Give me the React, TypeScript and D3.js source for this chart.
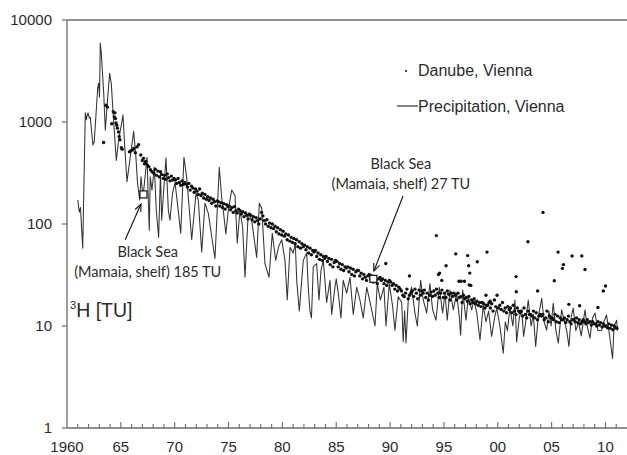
import React from 'react';
import * as d3 from 'd3';

// ---------- data ----------
const xTickYears = [1960, 1965, 1970, 1975, 1980, 1985, 1990, 1995, 2000, 2005, 2010];
const xTickLabels = ['1960', '65', '70', '75', '80', '85', '90', '95', '00', '05', '10'];
const yTickValues = [1, 10, 100, 1000, 10000];
const yTickLabels = ['1', '10', '100', '1000', '10000'];

// Precipitation, Vienna: [decimal year, TU]
const precipitation: [number, number][] = [
  [1961.0, 172], [1961.14, 131], [1961.25, 145], [1961.46, 58], [1961.7, 1230], [1961.8, 1050], [1961.86, 1150],
  [1961.95, 1230], [1962.07, 1090], [1962.16, 1110], [1962.41, 595], [1962.53, 640], [1962.85, 2150], [1962.94, 2400],
  [1963.02, 1750], [1963.09, 5950], [1963.18, 4800], [1963.41, 1900], [1963.56, 830], [1963.71, 1400], [1963.96, 3000],
  [1964.11, 2400], [1964.34, 980], [1964.58, 420], [1964.8, 670], [1965.2, 1170], [1965.35, 600], [1965.57, 260],
  [1966.19, 810], [1966.4, 450], [1966.55, 250], [1966.75, 172], [1966.87, 290], [1967.06, 185], [1967.43, 450],
  [1967.64, 87], [1967.73, 290], [1967.89, 215], [1968.11, 360], [1968.29, 137], [1968.51, 74], [1968.68, 320],
  [1968.79, 109], [1969.19, 445], [1969.41, 137], [1969.56, 109], [1969.8, 200], [1970.03, 255], [1970.19, 183],
  [1970.56, 81], [1970.86, 450], [1971.11, 290], [1971.36, 137], [1971.58, 70], [1971.98, 200], [1972.19, 172],
  [1972.51, 53], [1972.81, 160], [1973.12, 128], [1973.44, 75], [1973.74, 46], [1974.14, 360], [1974.36, 183],
  [1974.58, 117], [1974.75, 80], [1974.98, 137], [1975.29, 215], [1975.6, 190], [1975.81, 65], [1976.06, 137],
  [1976.31, 93], [1976.53, 30], [1976.83, 128], [1977.15, 109], [1977.61, 47], [1977.86, 160], [1978.08, 143],
  [1978.38, 41], [1978.76, 30], [1979.06, 81], [1979.38, 44], [1979.65, 60], [1979.94, 70], [1980.24, 44],
  [1980.45, 18], [1980.71, 59], [1981.01, 52], [1981.2, 65], [1981.33, 28], [1981.57, 14], [1981.94, 44],
  [1982.26, 52], [1982.4, 24], [1982.56, 14], [1982.7, 12], [1982.87, 38], [1983.18, 41], [1983.4, 18],
  [1983.58, 35], [1983.8, 44], [1984.11, 17], [1984.42, 28], [1984.58, 13], [1984.88, 24], [1985.0, 29],
  [1985.19, 21], [1985.44, 12], [1985.65, 28], [1985.97, 21], [1986.28, 30], [1986.58, 13], [1986.9, 24],
  [1987.2, 18], [1987.51, 12], [1987.83, 24], [1988.2, 16], [1988.6, 10], [1988.81, 26], [1989.1, 18],
  [1989.43, 24], [1989.62, 10], [1989.93, 26], [1990.24, 15.5], [1990.45, 9.1], [1990.76, 19.4], [1991.08, 17],
  [1991.22, 7.0], [1991.35, 14], [1991.48, 6.8], [1991.69, 18], [1992.0, 24], [1992.31, 13.4], [1992.53, 10],
  [1992.84, 28], [1993.08, 18], [1993.4, 13.4], [1993.7, 26], [1993.95, 14.4], [1994.26, 11.4], [1994.57, 24],
  [1994.88, 13.4], [1995.1, 21], [1995.31, 11.4], [1995.56, 22.5], [1995.87, 14.4], [1996.18, 21], [1996.43, 12.3],
  [1996.55, 8.1], [1996.74, 22.5], [1997.05, 11.4], [1997.26, 19.4], [1997.58, 14.4], [1997.79, 18], [1998.05, 13.4],
  [1998.35, 7.3], [1998.65, 16], [1998.9, 11], [1999.15, 14], [1999.43, 7.9], [1999.7, 12], [1999.9, 15],
  [2000.2, 10], [2000.51, 5.4], [2000.7, 11], [2000.9, 9], [2001.13, 15], [2001.4, 10], [2001.6, 18],
  [2001.75, 7], [2002.0, 12], [2002.22, 14.4], [2002.4, 7.9], [2002.6, 11], [2002.83, 18], [2003.1, 10],
  [2003.3, 13], [2003.52, 6.3], [2003.75, 12], [2004.08, 18.7], [2004.3, 11], [2004.54, 9.1], [2004.75, 14],
  [2004.95, 10], [2005.15, 16.7], [2005.4, 9], [2005.62, 6.8], [2005.93, 14.4], [2006.2, 11], [2006.4, 9],
  [2006.61, 6.3], [2006.8, 12], [2007.0, 15], [2007.25, 9], [2007.5, 11], [2007.75, 8], [2008.1, 14.4],
  [2008.3, 10], [2008.56, 7.6], [2008.8, 12], [2009.03, 13.4], [2009.3, 9], [2009.65, 9.1], [2009.85, 11],
  [2010.1, 12.8], [2010.35, 8.5], [2010.66, 4.8], [2010.8, 10], [2011.04, 11.4], [2011.12, 9],
];

// Danube, Vienna – early irregular samples: [decimal year, TU]
const danubeEarly: [number, number][] = [
  [1963.4, 630], [1963.62, 1460], [1963.75, 1400], [1964.15, 960], [1964.3, 1260], [1964.4, 1120], [1964.45, 1230],
  [1964.5, 1080], [1964.55, 980], [1964.62, 930], [1964.68, 870], [1964.78, 800], [1964.85, 720], [1964.92, 670],
  [1965.05, 560], [1965.13, 540], [1965.8, 510], [1965.9, 520], [1966.1, 530], [1966.2, 550], [1966.35, 500],
  [1966.5, 570], [1966.65, 600], [1966.85, 475], [1967.0, 420], [1967.1, 440], [1967.2, 390], [1967.3, 410],
  [1967.45, 380], [1967.6, 365], [1967.75, 340], [1967.9, 325],
];

// Danube, Vienna – eight samples per year from 1968
const danubeFirstYear = 1968;
const danubeByYear: number[][] = [
  [315, 345, 300, 330, 290, 325, 305, 280],
  [300, 275, 310, 285, 265, 295, 270, 280],
  [270, 250, 280, 255, 240, 265, 245, 255],
  [245, 230, 250, 215, 235, 225, 205, 220],
  [210, 195, 220, 190, 200, 180, 195, 175],
  [185, 170, 180, 160, 175, 165, 150, 168],
  [165, 150, 162, 145, 158, 140, 155, 148],
  [150, 138, 145, 130, 148, 135, 128, 140],
  [135, 125, 132, 118, 128, 122, 112, 125],
  [122, 110, 118, 105, 115, 108, 100, 112],
  [130, 120, 108, 100, 110, 95, 102, 92],
  [100, 90, 95, 84, 92, 80, 88, 78],
  [85, 76, 80, 70, 78, 68, 74, 66],
  [72, 64, 70, 60, 67, 58, 64, 60],
  [62, 56, 60, 52, 58, 50, 55, 53],
  [55, 48, 52, 45, 50, 44, 48, 46],
  [48, 43, 46, 40, 45, 38, 42, 44],
  [43, 38, 41, 36, 40, 35, 38, 37],
  [38, 34, 37, 32, 36, 31, 34, 35],
  [35, 31, 33, 29, 32, 30, 28, 31],
  [32, 29, 31, 27, 30, 28, 26, 29],
  [30, 28, 29, 26, 28, 25, 27, 28],
  [27, 25, 26, 23, 25, 22, 24, 23],
  [22, 20, 19.4, 21, 23, 18.5, 20, 21],
  [22, 19.5, 23, 21, 18.5, 22.5, 20, 22],
  [21, 22.5, 19, 21, 18, 20, 21.5, 19.5],
  [22, 20, 23, 21, 19, 21, 22.5, 19],
  [21, 19, 22, 20.5, 18, 21, 19.5, 21],
  [20, 18, 21, 19, 19.4, 17, 20, 18.5],
  [19, 17.5, 19.5, 16.5, 18, 17, 18.5, 16.5],
  [17.5, 16, 17, 15.5, 17, 16.5, 15, 16],
  [16, 17, 15, 16.5, 14, 18, 15.5, 20],
  [15, 16, 14.5, 17, 14, 15, 13.5, 15.5],
  [14.5, 15, 13.5, 16, 14, 13, 15, 14],
  [13.5, 14, 12.5, 15, 13, 12, 14, 13],
  [13, 12.5, 14, 12, 13.5, 11.5, 12.5, 13],
  [12.5, 13, 11.5, 12, 14, 11, 12.5, 12],
  [12, 11.5, 13, 11, 12.5, 10.8, 12, 11.5],
  [11.5, 12, 10.8, 11.5, 12.5, 11, 10.5, 11.5],
  [11.5, 11, 12, 10.8, 11.5, 10.5, 11, 11.5],
  [11, 10.5, 11.5, 10.8, 11, 10.2, 11, 10.5],
  [10.5, 10, 11, 10.2, 10.8, 9.8, 10.5, 10],
  [10, 9.6, 10.5, 9.5, 10.2, 9.2, 10, 9.6],
  [9.5],
];

// Danube, Vienna – high single samples: [decimal year, TU]
const danubeExtra: [number, number][] = [
  [1989.6, 41], [1991.8, 31], [1994.3, 77], [1994.5, 32], [1994.6, 33], [1994.8, 28], [1995.2, 39],
  [1996.1, 51], [1996.4, 27.5], [1996.6, 27.5], [1996.9, 27.5], [1997.2, 49], [1997.3, 39], [1997.4, 33],
  [1997.35, 25.3], [1997.5, 25], [1998.1, 42.7], [1999.0, 53], [1998.9, 20], [1999.3, 17.5], [2001.7, 30.5],
  [2001.72, 21.7], [2002.8, 67], [2003.7, 22], [2004.2, 130], [2005.25, 27.8], [2005.6, 53], [2006.1, 40],
  [2006.0, 36.7], [2006.9, 48.6], [2006.6, 16.3], [2007.8, 48.6], [2008.1, 35.8], [2007.6, 15.8], [2009.3, 15.2],
  [2009.8, 22], [2010.0, 24.7],
];

// Black Sea samples: [decimal year, TU]
const blackSea: [number, number][] = [[1967.1, 195], [1988.45, 29]];

// annotation texts and arrows (data coordinates)
const blackSeaLabels = [
  { lines: ['Black Sea', '(Mamaia, shelf) 185 TU'], at: [1967.5, 47] as [number, number] },
  { lines: ['Black Sea', '(Mamaia, shelf) 27 TU'], at: [1991.0, 345] as [number, number] },
];
const arrows: { from: [number, number]; to: [number, number] }[] = [
  { from: [1965.4, 70], to: [1966.87, 157] },
  { from: [1991.2, 188], to: [1988.5, 34.6] },
];

const legendItems = ['Danube, Vienna', 'Precipitation, Vienna'];

// ---------- chart ----------
const W = 627;
const H = 455;

export default function App() {
  const x = d3.scaleLinear().domain([1960, 2012]).range([67, 627]);
  const y = d3.scaleLog().domain([1, 10000]).range([428, 20]);

  const line = d3
    .line<[number, number]>()
    .x((d) => x(d[0]))
    .y((d) => y(d[1]));

  const danubePoints: [number, number][] = [...danubeEarly];
  danubeByYear.forEach((row, i) => {
    row.forEach((v, j) => danubePoints.push([danubeFirstYear + i + (j + 0.5) / 8, v]));
  });
  danubePoints.push(...danubeExtra);

  const minorYears = d3.range(1961, 2012);
  const axisColor = '#6b6b6b';
  const ink = '#2b2b2b';
  const sans = '"Liberation Sans", Arial, sans-serif';
  const calib = 'Lato, "Open Sans", sans-serif';

  const arrowHead = (fx: number, fy: number, tx: number, ty: number) => {
    const ang = Math.atan2(ty - fy, tx - fx);
    const len = 8;
    const spread = 0.4;
    const a1 = ang + Math.PI - spread;
    const a2 = ang + Math.PI + spread;
    return `M${tx + len * Math.cos(a1)},${ty + len * Math.sin(a1)}L${tx},${ty}L${tx + len * Math.cos(a2)},${ty + len * Math.sin(a2)}`;
  };

  return (
    <svg width={W} height={H} style={{ position: 'absolute', left: 0, top: 0, background: '#fff' }}>
      <rect x={0} y={0} width={W} height={H} fill="#fff" />
      {/* frame */}
      <line x1={67} y1={20} x2={627} y2={20} stroke={axisColor} strokeWidth={1.3} />
      <line x1={67} y1={20} x2={67} y2={428} stroke={axisColor} strokeWidth={1.3} />
      <line x1={67} y1={428} x2={627} y2={428} stroke={axisColor} strokeWidth={1.3} />

      {/* y ticks */}
      {yTickValues.map((v, i) => (
        <g key={'yt' + v}>
          <line x1={62} x2={67} y1={y(v)} y2={y(v)} stroke={axisColor} strokeWidth={1.2} />
          <text x={52} y={y(v)} dy="0.35em" textAnchor="end" fontFamily={sans} fontSize={15} fill={ink}>
            {yTickLabels[i]}
          </text>
        </g>
      ))}

      {/* x ticks */}
      {minorYears.map((yr) => (
        <line key={'mx' + yr} x1={x(yr)} x2={x(yr)} y1={428} y2={yr % 5 === 0 ? 422 : 424} stroke={axisColor} strokeWidth={1.1} />
      ))}
      {xTickYears.map((yr, i) => (
        <text key={'xt' + yr} x={x(yr)} y={452} textAnchor="middle" fontFamily={sans} fontSize={15} fill={ink}>
          {xTickLabels[i]}
        </text>
      ))}

      {/* precipitation line */}
      <path d={line(precipitation) || ''} fill="none" stroke="#333" strokeWidth={1.05} strokeLinejoin="round" />

      {/* Danube dots */}
      {danubePoints.map((d, i) => (
        <circle key={'dn' + i} cx={x(d[0])} cy={y(d[1])} r={1.7} fill="#111" />
      ))}

      {/* Black Sea squares */}
      {blackSea.map((d, i) => (
        <rect key={'bs' + i} x={x(d[0]) - 3.5} y={y(d[1]) - 3.5} width={7} height={7} fill="#fff" stroke="#111" strokeWidth={1.2} />
      ))}

      {/* arrows */}
      {arrows.map((a, i) => {
        const fx = x(a.from[0]);
        const fy = y(a.from[1]);
        const tx = x(a.to[0]);
        const ty = y(a.to[1]);
        return (
          <g key={'ar' + i} stroke="#111" strokeWidth={1.1} fill="none">
            <line x1={fx} y1={fy} x2={tx} y2={ty} />
            <path d={arrowHead(fx, fy, tx, ty)} />
          </g>
        );
      })}

      {/* annotation labels */}
      {blackSeaLabels.map((lab, i) => (
        <text key={'bl' + i} x={x(lab.at[0])} y={y(lab.at[1])} textAnchor="middle" fontFamily={calib} fontSize={14.5} fill={ink}>
          {lab.lines.map((t, j) => (
            <tspan key={j} x={x(lab.at[0])} dy={j === 0 ? 0 : 20}>
              {t}
            </tspan>
          ))}
        </text>
      ))}

      {/* legend */}
      <circle cx={406} cy={71} r={1.1} fill="#222" />
      <text x={418} y={76} fontFamily={sans} fontSize={16} fill={ink}>
        {legendItems[0]}
      </text>
      <line x1={397} x2={418} y1={106} y2={106} stroke="#333" strokeWidth={1.2} />
      <text x={418} y={112} fontFamily={sans} fontSize={16} fill={ink}>
        {legendItems[1]}
      </text>

      {/* y axis title */}
      <text x={70} y={317} fontFamily={sans} fontSize={19.5} fill={ink}>
        <tspan fontSize={11} dy={-8}>3</tspan>
        <tspan dy={8}>H [TU]</tspan>
      </text>
    </svg>
  );
}
